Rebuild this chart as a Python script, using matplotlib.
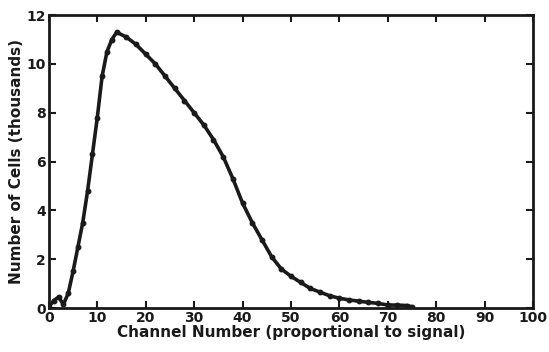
import matplotlib.pyplot as plt

# channel histogram, counts in thousands
channel = [0, 1, 2, 3, 4, 5, 6, 7, 8, 9, 10, 11, 12, 13, 14, 16, 18, 20, 22, 24,
           26, 28, 30, 32, 34, 36, 38, 40, 42, 44, 46, 48, 50, 52, 54, 56, 58,
           60, 62, 64, 66, 68, 70, 72, 74, 75]
cells = [0.05, 0.3, 0.45, 0.15, 0.6, 1.5, 2.5, 3.5, 4.8, 6.3, 7.8, 9.5, 10.5,
         11.0, 11.3, 11.1, 10.8, 10.4, 10.0, 9.5, 9.0, 8.5, 8.0, 7.5, 6.9, 6.2,
         5.3, 4.3, 3.5, 2.8, 2.1, 1.6, 1.3, 1.05, 0.8, 0.65, 0.5, 0.4, 0.33,
         0.28, 0.23, 0.19, 0.12, 0.12, 0.1, 0.05]

xticks = list(range(0, 101, 10))
yticks = list(range(0, 13, 2))

fig = plt.figure(figsize=(5.49, 3.52), dpi=100)
ax = fig.add_axes([0.089, 0.125, 0.882, 0.832])

ax.plot(channel, cells, color="#1a1a1a", lw=2.6, marker="o", ms=3.2,
        solid_joinstyle="round")

ax.set_xlim(0, 100)
ax.set_ylim(0, 12)
ax.set_xticks(xticks)
ax.set_yticks(yticks)
ax.tick_params(direction="in", top=True, right=True, length=5, width=1.5,
               labelsize=10, pad=2, colors="#1a1a1a")
for lab in ax.get_xticklabels() + ax.get_yticklabels():
    lab.set_fontweight("bold")
for s in ax.spines.values():
    s.set_linewidth(2)
    s.set_color("#1a1a1a")

ax.set_xlabel("Channel Number (proportional to signal)", fontsize=11,
              fontweight="bold", labelpad=0, color="#1a1a1a")
ax.set_ylabel("Number of Cells (thousands)", fontsize=11,
              fontweight="bold", labelpad=2, color="#1a1a1a")

fig.savefig("out.png", dpi=100)
